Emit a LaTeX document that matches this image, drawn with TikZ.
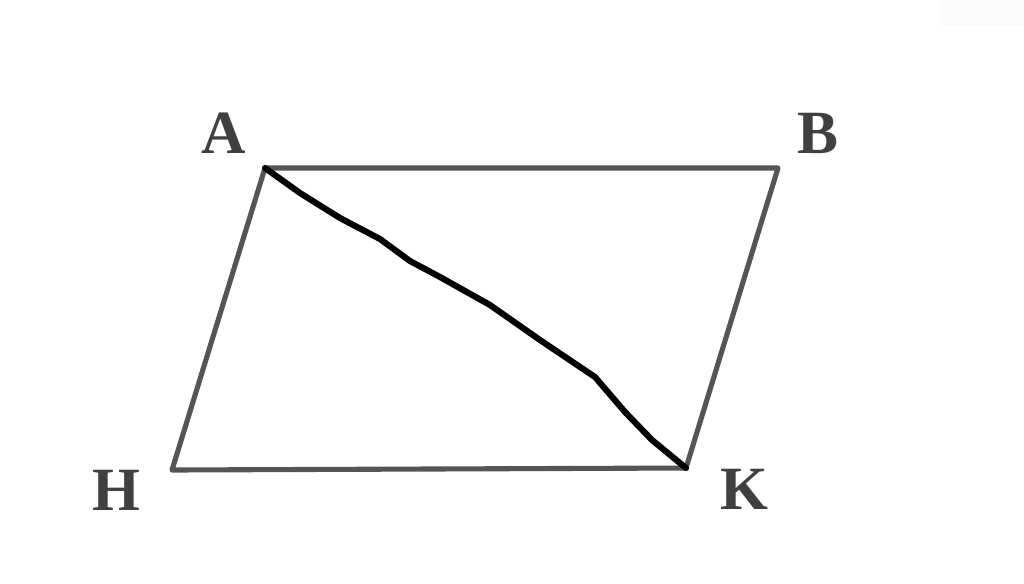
\documentclass[tikz,border=0pt]{standalone}
\usepackage{fontspec}
\setmainfont{Liberation Serif}
\definecolor{edgegray}{HTML}{555555}
\definecolor{labgray}{HTML}{404040}
\definecolor{faint}{HTML}{FBFBFB}
\begin{document}
\begin{tikzpicture}[x=0.02cm,y=-0.02cm,
  side/.style={draw=edgegray,line width=2.9pt,line join=round},
  diag/.style={draw=black,line width=3.5pt,line cap=round,line join=round},
  lab/.style={text=labgray,font=\fontsize{35}{35}\selectfont\bfseries,inner sep=0pt}]
\useasboundingbox (0,0) rectangle (1024,583);
\fill[faint] (940,0) rectangle (1024,26);
\coordinate (A) at (265,168);
\coordinate (B) at (778,168);
\coordinate (K) at (686,468);
\coordinate (H) at (172,470);
\draw[side] (A) -- (B) -- (K) -- (H) -- cycle;
\draw[diag] (A) -- (300,193) -- (340,218) -- (380,239) -- (410,261) -- (440,277) -- (490,305) -- (540,340) -- (595,377) -- (625,412) -- (652,440) -- (K);
\node[lab] (lA) at (224,133) {A};
\node[lab] (lB) at (818,133) {B};
\node[lab] (lH) at (116,490) {H};
\node[lab] (lK) at (744,489) {K};
\end{tikzpicture}
\end{document}
